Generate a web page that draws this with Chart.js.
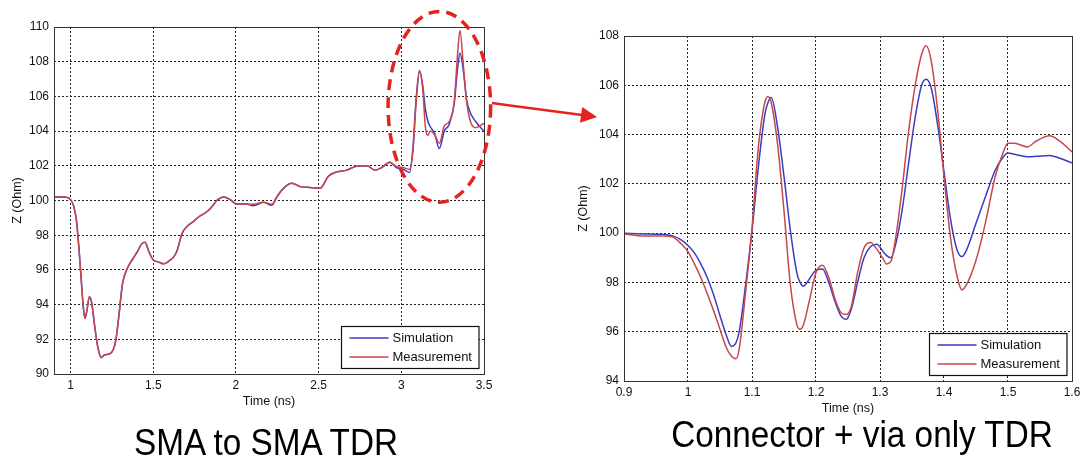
<!DOCTYPE html>
<html>
<head>
<meta charset="utf-8">
<title>TDR impedance</title>
<script src="https://cdn.jsdelivr.net/npm/chart.js@4/dist/chart.umd.min.js"></script>
<style>
  html, body { margin: 0; padding: 0; background: #fff; }
  body { width: 1088px; height: 468px; position: relative; overflow: hidden;
         font-family: "Liberation Sans", Arial, sans-serif; }
  #wrap-left  { position: absolute; left: 0;     top: 0; width: 500px; height: 414px; }
  #wrap-right { position: absolute; left: 570px; top: 0; width: 518px; height: 421px; }
  .caption { position: absolute; font-size: 37px; line-height: 37px; color: #000;
             white-space: nowrap; text-align: center; transform: scaleX(0.9); }
  #cap-left  { left: 0;   width: 532px; top: 424px; }
  #cap-right { left: 636px; width: 452px; top: 416px; }
  #arrow { position: absolute; left: 0; top: 0; pointer-events: none; }
</style>
</head>
<body>
<div id="wrap-left"><canvas id="sma-chart"></canvas></div>
<div id="wrap-right"><canvas id="via-chart"></canvas></div>
<svg id="arrow" width="1088" height="468">
  <line x1="492" y1="103" x2="584" y2="115.3" stroke="#e4231d" stroke-width="2.5"/>
  <polygon points="597,117 582.2,107 580,122.8" fill="#e4231d"/>
</svg>
<div class="caption" id="cap-left">SMA to SMA TDR</div>
<div class="caption" id="cap-right">Connector + via only TDR</div>

<script>
// SMA to SMA TDR (full trace)
var smaTime = [0.90, 0.96, 1.00, 1.02, 1.035, 1.05, 1.065, 1.075, 1.087, 1.098, 1.114, 1.128,
    1.144, 1.164, 1.185, 1.205, 1.235, 1.258, 1.274, 1.294, 1.314, 1.344, 1.374, 1.404, 1.43,
    1.45, 1.474, 1.498, 1.534, 1.564, 1.594, 1.624, 1.644, 1.674, 1.704, 1.744, 1.774, 1.824,
    1.86, 1.884, 1.928, 1.965, 2.005, 2.06, 2.106, 2.166, 2.217, 2.247, 2.287, 2.338, 2.388,
    2.449, 2.509, 2.559, 2.61, 2.67, 2.731, 2.792, 2.842, 2.882, 2.93, 2.97, 3.01, 3.05,
    3.07, 3.09, 3.11, 3.13, 3.145, 3.16, 3.175, 3.2, 3.23, 3.26, 3.29, 3.32, 3.34, 3.355,
    3.375, 3.395, 3.42, 3.45, 3.475, 3.5];
var smaSim = [100.2, 100.2, 100.05, 99.65, 98.9, 97.35, 95.4, 94.1, 93.2, 93.6, 94.45, 94.1,
    92.9, 91.6, 90.95, 91.1, 91.15, 91.4, 91.95, 93.5, 95.2, 96.1, 96.6, 97.05, 97.5,
    97.6, 97.05, 96.6, 96.45, 96.35, 96.5, 96.75, 97.1, 98.1, 98.5, 98.8, 99.05, 99.35,
    99.7, 100.0, 100.2, 100.05, 99.8, 99.8, 99.7, 99.9, 99.72, 100.2, 100.7, 101.0, 100.8,
    100.75, 100.7, 101.4, 101.65, 101.75, 101.98, 102.0, 101.75, 101.9, 102.2, 101.9, 101.8, 101.62,
    103.0, 105.9, 107.5, 106.6, 105.3, 104.6, 104.25, 103.9, 103.0, 104.0, 104.4, 105.6, 107.6, 108.5,
    107.5, 105.8, 105.0, 104.55, 104.25, 104.0];
var smaMeas = [100.2, 100.2, 100.05, 99.65, 98.9, 97.35, 95.4, 94.1, 93.2, 93.6, 94.45, 94.1,
    92.9, 91.6, 90.95, 91.1, 91.15, 91.4, 91.95, 93.5, 95.2, 96.1, 96.6, 97.05, 97.5,
    97.6, 97.05, 96.6, 96.45, 96.35, 96.5, 96.75, 97.1, 98.1, 98.5, 98.8, 99.05, 99.35,
    99.7, 100.0, 100.2, 100.05, 99.8, 99.8, 99.78, 99.9, 99.78, 100.2, 100.7, 101.0, 100.8,
    100.75, 100.7, 101.4, 101.65, 101.75, 101.98, 102.0, 101.75, 101.9, 102.2, 101.95, 101.9, 101.8,
    102.8, 105.7, 107.4, 106.4, 104.3, 103.75, 104.0, 103.8, 103.3, 104.3, 104.55, 105.7, 108.4, 109.8,
    107.8, 105.7, 104.5, 104.2, 104.3, 104.45];
var smaXTicks = [1, 1.5, 2, 2.5, 3, 3.5];

// Connector + via only TDR (zoomed window)
var viaTime = [0.90, 0.93, 0.96, 0.975, 0.99, 1.00, 1.01, 1.02, 1.03, 1.04, 1.05, 1.06, 1.068,
    1.075, 1.08, 1.09, 1.10, 1.11, 1.12, 1.125, 1.13, 1.14, 1.15, 1.16, 1.17, 1.175, 1.18, 1.19,
    1.20, 1.21, 1.22, 1.23, 1.24, 1.247, 1.255, 1.265, 1.275, 1.285, 1.295, 1.305, 1.31, 1.317,
    1.325, 1.335, 1.345, 1.355, 1.365, 1.372, 1.38, 1.39, 1.40, 1.41, 1.42, 1.428, 1.435, 1.45,
    1.465, 1.48, 1.49, 1.50, 1.51, 1.53, 1.545, 1.565, 1.58, 1.60];
var viaSim = [100.0, 99.97, 99.95, 99.9, 99.72, 99.5, 99.2, 98.75, 98.2, 97.5, 96.65, 95.85, 95.4,
    95.55, 96.0, 97.9, 100.1, 102.7, 104.8, 105.3, 105.5, 104.3, 102.3, 100.1, 98.4, 98.0, 97.85, 98.15,
    98.5, 98.55, 98.0, 97.2, 96.6, 96.5, 96.9, 98.0, 99.0, 99.45, 99.55, 99.25, 99.1, 99.0,
    99.6, 101.0, 102.9, 104.7, 106.0, 106.25, 105.9, 104.4, 102.5, 100.6, 99.35, 99.05, 99.3, 100.4,
    101.5, 102.55, 103.0, 103.25, 103.2, 103.1, 103.12, 103.15, 103.05, 102.85];
var viaMeas = [99.97, 99.88, 99.88, 99.85, 99.55, 99.25, 98.75, 98.2, 97.55, 96.85, 96.1, 95.35, 95.0,
    94.9, 95.3, 97.6, 100.2, 103.5, 105.3, 105.55, 105.3, 103.6, 100.9, 97.9, 96.3, 96.1, 96.25, 97.3,
    98.4, 98.7, 98.2, 97.3, 96.75, 96.7, 97.0, 98.4, 99.4, 99.62, 99.35, 98.95, 98.75, 98.85,
    99.9, 101.9, 104.2, 106.0, 107.25, 107.6, 107.0, 105.0, 102.3, 99.85, 98.3, 97.7, 97.9, 98.9,
    100.45, 102.3, 103.1, 103.65, 103.65, 103.5, 103.75, 103.95, 103.75, 103.3];
var viaXTicks = [0.9, 1, 1.1, 1.2, 1.3, 1.4, 1.5, 1.6];

var seriesNames = ['Simulation', 'Measurement'];
var simColor = '#3b3bc4';
var measColor = '#c8474a';

Chart.defaults.font.family = '"Liberation Sans", Arial, sans-serif';
Chart.defaults.color = '#111';

function toPoints(xs, ys) {
    return xs.map(function (x, i) { return { x: x, y: ys[i] }; });
}

// Solid box round the plot area (MATLAB style axes)
var frameBox = {
    id: 'frameBox',
    afterDatasetsDraw: function (chart) {
        var a = chart.chartArea, ctx = chart.ctx;
        ctx.save();
        ctx.strokeStyle = '#333';
        ctx.lineWidth = 1;
        ctx.strokeRect(Math.round(a.left) + 0.5, Math.round(a.top) + 0.5,
            Math.round(a.right - a.left), Math.round(a.bottom - a.top));
        ctx.restore();
    }
};

// Boxed legend in the lower right corner of the plot
var boxLegend = {
    id: 'boxLegend',
    afterDraw: function (chart) {
        var a = chart.chartArea, ctx = chart.ctx;
        var sets = chart.data.datasets;
        ctx.save();
        ctx.font = '13px "Liberation Sans", Arial, sans-serif';
        var textW = 0;
        sets.forEach(function (d) { textW = Math.max(textW, ctx.measureText(d.label).width); });
        var lineLen = 39, padL = 8, padR = 7, gap = 4, rowH = 19, h = 42;
        var w = padL + lineLen + gap + textW + padR;
        var x0 = Math.round(a.right - 6 - w) + 0.5;
        var y0 = Math.round(a.bottom - 6 - h) + 0.5;
        ctx.fillStyle = '#fff';
        ctx.fillRect(x0, y0, w, h);
        ctx.strokeStyle = '#111';
        ctx.lineWidth = 1.2;
        ctx.strokeRect(x0, y0, w, h);
        sets.forEach(function (d, i) {
            var yy = y0 + 11.5 + i * rowH;
            ctx.strokeStyle = d.borderColor;
            ctx.lineWidth = 1.5;
            ctx.beginPath();
            ctx.moveTo(x0 + padL, yy);
            ctx.lineTo(x0 + padL + lineLen, yy);
            ctx.stroke();
            ctx.fillStyle = '#111';
            ctx.textBaseline = 'middle';
            ctx.fillText(d.label, x0 + padL + lineLen + gap, yy + 0.5);
        });
        ctx.restore();
    }
};

// Dashed ellipse marking the connector + via region on the full trace
var zoomMark = {
    id: 'zoomMark',
    afterDraw: function (chart) {
        var xs = chart.scales.x, ys = chart.scales.y, ctx = chart.ctx;
        var cx = xs.getPixelForValue(3.23), cy = ys.getPixelForValue(105.4);
        var rx = xs.getPixelForValue(3.23 + 0.31) - cx;
        var ry = cy - ys.getPixelForValue(105.4 + 5.5);
        ctx.save();
        ctx.strokeStyle = '#e4231d';
        ctx.lineWidth = 3.5;
        ctx.setLineDash([11, 7]);
        ctx.beginPath();
        ctx.ellipse(cx, cy, rx, ry, 0, 0, Math.PI * 2);
        ctx.stroke();
        ctx.restore();
    }
};

function crearGrafico(canvasId, time, sim, meas, xTicks, xMin, xMax, yMin, yMax, padTop, yTitlePad, extra) {
    var ctx = document.getElementById(canvasId).getContext('2d');
    return new Chart(ctx, {
        type: 'line',
        data: {
            datasets: [{
                label: seriesNames[0],
                data: toPoints(time, sim),
                borderColor: simColor,
                borderWidth: 1.5,
                pointRadius: 0,
                cubicInterpolationMode: 'monotone',
                order: 1
            }, {
                label: seriesNames[1],
                data: toPoints(time, meas),
                borderColor: measColor,
                borderWidth: 1.5,
                pointRadius: 0,
                cubicInterpolationMode: 'monotone',
                order: 0
            }]
        },
        options: {
            responsive: true,
            maintainAspectRatio: false,
            animation: false,
            layout: { padding: { top: padTop, right: 16, left: 0, bottom: 0 } },
            scales: {
                x: {
                    type: 'linear',
                    min: xMin,
                    max: xMax,
                    afterBuildTicks: function (scale) {
                        scale.ticks = xTicks.map(function (v) { return { value: v }; });
                    },
                    afterFit: function (scale) { scale.height = 40; },
                    ticks: {
                        autoSkip: false,
                        maxRotation: 0,
                        padding: 4,
                        font: { size: 12 },
                        callback: function (v) { return String(v); }
                    },
                    grid: { color: '#222', lineWidth: 1, drawTicks: false },
                    border: { display: false, dash: [2, 2] },
                    title: {
                        display: true,
                        text: 'Time (ns)',
                        font: { size: 12.5 },
                        padding: { top: 5, bottom: 5 }
                    }
                },
                y: {
                    min: yMin,
                    max: yMax,
                    afterFit: function (scale) { scale.width = 54; },
                    ticks: { stepSize: 2, padding: 5, font: { size: 12 } },
                    grid: { color: '#222', lineWidth: 1, drawTicks: false },
                    border: { display: false, dash: [2, 2] },
                    title: {
                        display: true,
                        text: 'Z (Ohm)',
                        font: { size: 12.5 },
                        padding: { top: yTitlePad, bottom: yTitlePad }
                    }
                }
            },
            plugins: {
                legend: { display: false },
                tooltip: { enabled: false }
            }
        },
        plugins: [frameBox, boxLegend].concat(extra)
    });
}

crearGrafico('sma-chart', smaTime, smaSim, smaMeas, smaXTicks, 0.9, 3.5, 90, 110, 27, 10, [zoomMark]);
crearGrafico('via-chart', viaTime, viaSim, viaMeas, viaXTicks, 0.9, 1.6, 94, 108, 36, 6, []);
</script>
</body>
</html>
